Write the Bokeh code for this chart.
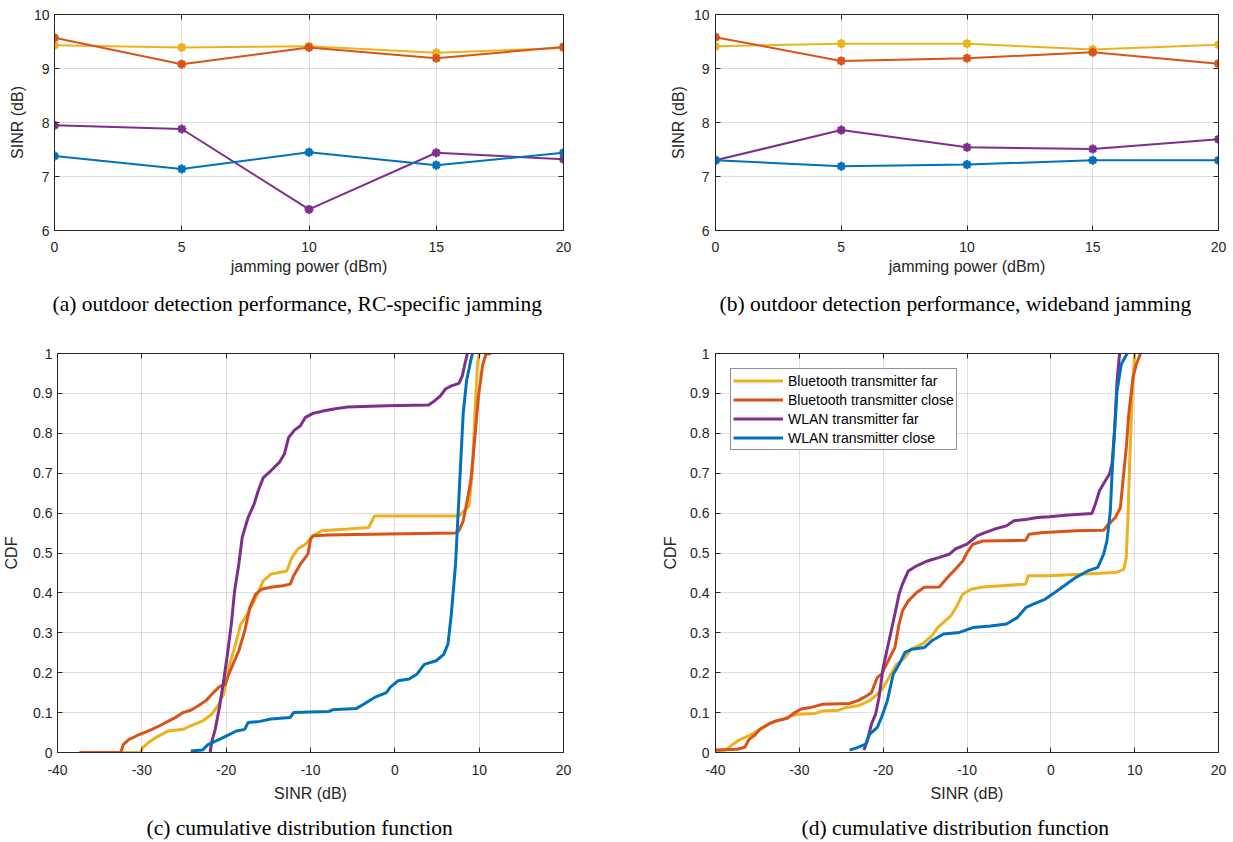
from bokeh.plotting import figure
from bokeh.models import LinearAxis, FixedTicker, Title, Legend, LegendItem, Range1d
from bokeh.layouts import column, row
from bokeh.embed import file_html
from bokeh.resources import INLINE

# ---------------- data ----------------
series_names = ["Bluetooth transmitter far", "Bluetooth transmitter close",
                "WLAN transmitter far", "WLAN transmitter close"]
series_colors = ["#EDB120", "#D95319", "#7E2F8E", "#0072BD"]

jam_power = [0, 5, 10, 15, 20]

# (a) RC-specific jamming
a_bt_far = [9.43, 9.39, 9.41, 9.29, 9.38]
a_bt_close = [9.57, 9.08, 9.39, 9.19, 9.40]
a_wlan_far = [7.95, 7.88, 6.39, 7.44, 7.32]
a_wlan_close = [7.38, 7.14, 7.45, 7.21, 7.44]

# (b) wideband jamming
b_bt_far = [9.41, 9.46, 9.46, 9.35, 9.44]
b_bt_close = [9.58, 9.14, 9.19, 9.30, 9.09]
b_wlan_far = [7.30, 7.86, 7.54, 7.51, 7.69]
b_wlan_close = [7.30, 7.19, 7.22, 7.30, 7.30]

# (c) CDF
c_bt_far_x = [-32.4, -30.1, -29.9, -29.2, -28.3, -26.9, -25.1, -24.2, -22.8, -21.7, -21.0, -20.3,
              -19.7, -19.0, -18.3, -17.4, -16.5, -15.6, -14.7, -12.8, -12.2, -11.5, -10.6, -9.7,
              -8.7, -5.6, -3.1, -2.4, 7.6, 8.8, 9.2, 9.5, 9.8, 10.0]
c_bt_far_y = [0, 0, 0.0125, 0.025, 0.038, 0.054, 0.058, 0.067, 0.079, 0.096, 0.117, 0.146,
              0.213, 0.263, 0.32, 0.35, 0.388, 0.43, 0.447, 0.455, 0.489, 0.51, 0.522, 0.543,
              0.556, 0.56, 0.564, 0.593, 0.593, 0.618, 0.706, 0.848, 0.973, 1.0]
c_bt_close_x = [-37.4, -32.5, -32.2, -31.5, -30.6, -29.7, -28.8, -27.9, -26.9, -26.0, -25.1, -24.2,
                -23.3, -22.4, -21.7, -20.8, -20.1, -19.7, -19.2, -18.5, -17.8, -17.2, -16.5, -15.8,
                -14.7, -13.3, -12.4, -12.0, -11.2, -10.3, -10.0, -9.7, -7.8, -2.8, 7.2, 7.6, 8.1,
                8.5, 9.0, 9.45, 9.9, 10.4, 10.8, 11.4]
c_bt_close_y = [0, 0.0, 0.02, 0.033, 0.042, 0.05, 0.058, 0.067, 0.078, 0.088, 0.10, 0.106,
                0.117, 0.13, 0.146, 0.165, 0.171, 0.196, 0.221, 0.255, 0.305, 0.363, 0.397, 0.409,
                0.414, 0.418, 0.422, 0.443, 0.472, 0.497, 0.535, 0.543, 0.545, 0.547, 0.55, 0.556,
                0.58, 0.622, 0.68, 0.78, 0.89, 0.97, 0.998, 1.0]
c_wlan_far_x = [-21.9, -21.7, -21.3, -20.8, -20.3, -19.9, -19.4, -19.0, -18.5, -18.1, -17.4, -16.7,
                -16.2, -15.6, -14.7, -13.7, -13.1, -12.6, -11.9, -11.2, -10.6, -9.7, -8.5, -6.9,
                -5.6, -1.0, 4.0, 4.7, 5.4, 6.0, 6.7, 7.6, 8.0, 8.3, 8.6]
c_wlan_far_y = [0.0, 0.028, 0.058, 0.113, 0.18, 0.238, 0.32, 0.405, 0.472, 0.539, 0.589, 0.622,
                0.656, 0.689, 0.706, 0.727, 0.748, 0.789, 0.808, 0.819, 0.84, 0.85, 0.856, 0.862,
                0.866, 0.869, 0.871, 0.881, 0.894, 0.911, 0.919, 0.925, 0.944, 0.973, 1.0]
c_wlan_close_x = [-24.2, -22.8, -22.2, -21.0, -19.7, -18.8, -17.8, -17.4, -16.0, -14.7, -12.4, -12.0,
                  -7.8, -7.4, -4.6, -3.7, -2.4, -1.0, -0.55, 0.4, 1.7, 2.6, 3.5, 4.9, 5.8, 6.3,
                  6.7, 7.2, 7.4, 7.6, 7.9, 8.1, 8.5, 9.0, 9.2]
c_wlan_close_y = [0.004, 0.006, 0.019, 0.031, 0.044, 0.054, 0.058, 0.075, 0.078, 0.084, 0.088, 0.10,
                  0.103, 0.107, 0.11, 0.121, 0.138, 0.15, 0.163, 0.18, 0.184, 0.196, 0.221, 0.23,
                  0.246, 0.272, 0.347, 0.472, 0.556, 0.639, 0.764, 0.848, 0.931, 0.982, 1.0]

# (d) CDF
d_bt_far_x = [-40, -38.8, -37.9, -37.0, -36.0, -34.7, -33.3, -31.9, -31.0, -30.0, -28.1, -27.2,
              -25.3, -24.4, -23.0, -21.6, -20.7, -20.0, -19.3, -18.4, -17.4, -16.7, -15.3, -14.2,
              -13.5, -12.8, -11.9, -11.2, -10.5, -9.5, -8.1, -3.0, -2.7, -0.2, 3.5, 7.7, 8.7,
              9.0, 9.2, 9.4, 9.7, 10.0]
d_bt_far_y = [0.003, 0.006, 0.021, 0.033, 0.042, 0.058, 0.075, 0.084, 0.092, 0.096, 0.098, 0.104,
              0.106, 0.113, 0.117, 0.13, 0.146, 0.163, 0.188, 0.221, 0.238, 0.259, 0.272, 0.292,
              0.313, 0.326, 0.343, 0.368, 0.397, 0.409, 0.415, 0.422, 0.443, 0.443, 0.447, 0.451,
              0.459, 0.489, 0.589, 0.723, 0.89, 1.0]
d_bt_close_x = [-40, -37.4, -36.5, -36.0, -35.3, -34.7, -33.7, -32.8, -31.4, -30.7, -29.8, -28.6,
                -27.2, -24.0, -23.0, -22.3, -21.4, -20.7, -20.2, -19.3, -18.6, -18.1, -17.7, -17.0,
                -16.0, -15.1, -13.3, -12.3, -11.4, -10.5, -10.0, -9.3, -8.1, -3.0, -2.6, -1.2,
                3.0, 6.3, 6.7, 7.7, 8.3, 8.6, 9.0, 9.3, 9.8, 10.2, 10.7]
d_bt_close_y = [0.006, 0.008, 0.013, 0.033, 0.044, 0.058, 0.071, 0.079, 0.086, 0.098, 0.109, 0.113,
                0.121, 0.123, 0.13, 0.138, 0.15, 0.188, 0.196, 0.234, 0.263, 0.322, 0.355, 0.38,
                0.401, 0.414, 0.415, 0.439, 0.459, 0.48, 0.501, 0.522, 0.53, 0.532, 0.547, 0.551,
                0.556, 0.557, 0.568, 0.589, 0.614, 0.681, 0.764, 0.848, 0.94, 0.973, 1.0]
d_wlan_far_x = [-22.3, -21.9, -21.4, -20.9, -20.5, -20.0, -19.3, -18.6, -18.1, -17.7, -17.0, -16.0,
                -14.7, -13.3, -12.1, -11.4, -10.0, -8.8, -8.1, -6.7, -5.3, -4.4, -3.0, -1.6,
                -0.2, 2.1, 4.9, 5.3, 5.8, 6.5, 7.0, 7.3, 7.6, 7.9, 8.2]
d_wlan_far_y = [0.006, 0.029, 0.071, 0.096, 0.138, 0.213, 0.28, 0.347, 0.397, 0.422, 0.455, 0.468,
                0.48, 0.489, 0.497, 0.51, 0.522, 0.543, 0.549, 0.56, 0.568, 0.581, 0.584, 0.589,
                0.591, 0.595, 0.599, 0.622, 0.656, 0.681, 0.698, 0.723, 0.806, 0.931, 1.0]
d_wlan_close_x = [-24.0, -23.0, -22.1, -21.6, -20.7, -20.2, -19.5, -18.8, -18.1, -17.4, -16.5, -15.1,
                  -14.2, -12.8, -10.9, -9.3, -7.2, -5.3, -4.0, -3.0, -2.1, -0.7, 0.2, 1.6, 3.0,
                  4.4, 5.6, 6.3, 6.7, 7.1, 7.3, 7.6, 7.9, 8.4, 9.1]
d_wlan_close_y = [0.006, 0.013, 0.021, 0.046, 0.063, 0.088, 0.13, 0.196, 0.221, 0.251, 0.259, 0.263,
                  0.28, 0.297, 0.301, 0.313, 0.317, 0.322, 0.338, 0.363, 0.372, 0.384, 0.397, 0.418,
                  0.439, 0.455, 0.464, 0.497, 0.531, 0.606, 0.698, 0.806, 0.906, 0.973, 1.0]

top_xticks = [0, 5, 10, 15, 20]
top_yticks = [6, 7, 8, 9, 10]
top_ytick_labels = ["6", "7", "8", "9", "10"]
top_xtick_labels = ["0", "5", "10", "15", "20"]
cdf_xticks = [-40, -30, -20, -10, 0, 10, 20]
cdf_xtick_labels = ["-40", "-30", "-20", "-10", "0", "10", "20"]
cdf_yticks = [0, 0.1, 0.2, 0.3, 0.4, 0.5, 0.6, 0.7, 0.8, 0.9, 1]
cdf_ytick_labels = ["0", "0.1", "0.2", "0.3", "0.4", "0.5", "0.6", "0.7", "0.8", "0.9", "1"]

captions = ["(a) outdoor detection performance, RC-specific jamming",
            "(b) outdoor detection performance, wideband jamming",
            "(c) cumulative distribution function",
            "(d) cumulative distribution function"]

AX = "#262626"
SANS = "Liberation Sans"
SERIF = "Liberation Serif"


def make_fig(width, height, borders, xr, yr, xticks, xlabels, yticks, ylabels,
             xlabel, ylabel, caption, tick_standoff_x, label_standoff_x,
             tick_standoff_y, label_standoff_y, cap_gap, cap_shift):
    left, right, top, bottom = borders
    p = figure(width=width, height=height, output_backend="svg", toolbar_location=None,
               x_range=Range1d(*xr), y_range=Range1d(*yr),
               min_border_left=left, min_border_right=right,
               min_border_top=top, min_border_bottom=bottom)
    p.background_fill_color = "white"
    p.border_fill_color = "white"
    p.outline_line_color = AX
    p.outline_line_width = 1
    xa = p.below[0]
    ya = p.left[0]
    for ax, ticks, labels, ts, ls, lab in ((xa, xticks, xlabels, tick_standoff_x, label_standoff_x, xlabel),
                                           (ya, yticks, ylabels, tick_standoff_y, label_standoff_y, ylabel)):
        ax.ticker = FixedTicker(ticks=ticks)
        ax.major_label_overrides = {t: l for t, l in zip(ticks, labels)}
        ax.major_tick_in = 5
        ax.major_tick_out = 0
        ax.minor_tick_line_color = None
        ax.axis_line_color = AX
        ax.major_tick_line_color = AX
        ax.major_label_text_font = SANS
        ax.major_label_text_font_size = "14px"
        ax.major_label_text_color = AX
        ax.major_label_standoff = ts
        ax.axis_label = lab
        ax.axis_label_text_font = SANS
        ax.axis_label_text_font_size = "16px"
        ax.axis_label_text_font_style = "normal"
        ax.axis_label_text_color = AX
        ax.axis_label_standoff = ls
    p.grid.grid_line_color = AX
    p.grid.grid_line_alpha = 0.15
    p.xgrid.ticker = FixedTicker(ticks=xticks)
    p.ygrid.ticker = FixedTicker(ticks=yticks)
    # box ticks on top and right
    for loc, ticks in (("above", xticks), ("right", yticks)):
        ax = LinearAxis(ticker=FixedTicker(ticks=ticks), major_label_text_font_size="0px",
                        major_label_text_color=None,
                        major_tick_in=5, major_tick_out=0, major_label_standoff=0,
                        minor_tick_line_color=None, axis_line_color=AX,
                        major_tick_line_color=AX)
        p.add_layout(ax, loc)
    # invisible spacer between the x axis and the caption
    spacer = LinearAxis(ticker=FixedTicker(ticks=xticks), major_label_text_font_size="0px",
                        major_label_text_color=None, major_tick_in=0, major_tick_out=cap_gap,
                        major_label_standoff=0, minor_tick_line_color=None,
                        axis_line_color=None, major_tick_line_color=None)
    p.add_layout(spacer, "below")
    p.add_layout(Title(text=caption, align="left", offset=cap_shift, vertical_align="top",
                       standoff=0, text_font=SERIF, text_font_size="21.5px",
                       text_font_style="normal", text_color="black"), "below")
    return p


top_series_a = [a_bt_far, a_bt_close, a_wlan_far, a_wlan_close]
top_series_b = [b_bt_far, b_bt_close, b_wlan_far, b_wlan_close]

pa = make_fig(603, 319, (54, 40, 14, 89), (0, 20), (6, 10), top_xticks, top_xtick_labels,
              top_yticks, top_ytick_labels, "jamming power (dBm)", "SINR (dB)", captions[0],
              11, 3, 5, 5, 14, -2)
pb = make_fig(630, 319, (112, 15, 14, 89), (0, 20), (6, 10), top_xticks, top_xtick_labels,
              top_yticks, top_ytick_labels, "jamming power (dBm)", "SINR (dB)", captions[1],
              11, 3, 6, 4, 14, 4)
for p, series in ((pa, top_series_a), (pb, top_series_b)):
    for vals, col in zip(series, series_colors):
        p.line(jam_power, vals, line_color=col, line_width=2)
        p.scatter(jam_power, vals, marker="asterisk", size=9, line_color=col, line_width=2.5)

pc = make_fig(603, 523, (54, 40, 34, 90), (-40, 20), (0, 1), cdf_xticks, cdf_xtick_labels,
              cdf_yticks, cdf_ytick_labels, "SINR (dB)", "CDF", captions[2],
              12, 7, 5, 10, 11, 89)
pd_ = make_fig(630, 523, (112, 15, 34, 90), (-40, 20), (0, 1), cdf_xticks, cdf_xtick_labels,
               cdf_yticks, cdf_ytick_labels, "SINR (dB)", "CDF", captions[3],
               12, 7, 6, 8, 11, 86)

c_series = [(c_bt_far_x, c_bt_far_y), (c_bt_close_x, c_bt_close_y),
            (c_wlan_far_x, c_wlan_far_y), (c_wlan_close_x, c_wlan_close_y)]
d_series = [(d_bt_far_x, d_bt_far_y), (d_bt_close_x, d_bt_close_y),
            (d_wlan_far_x, d_wlan_far_y), (d_wlan_close_x, d_wlan_close_y)]

for (xs, ys), col in zip(c_series, series_colors):
    pc.line(xs, ys, line_color=col, line_width=3)

items = []
for (xs, ys), col, name in zip(d_series, series_colors, series_names):
    r = pd_.line(xs, ys, line_color=col, line_width=3)
    items.append(LegendItem(label=name, renderers=[r]))

legend = Legend(items=items, location="top_left", margin=15, padding=2, spacing=0,
                label_height=19, glyph_height=19, glyph_width=50, label_standoff=5,
                label_text_font=SANS, label_text_font_size="14px", label_text_color="black",
                border_line_color=AX, border_line_width=1, background_fill_color="white",
                background_fill_alpha=1.0)
pd_.add_layout(legend)

layout = column(row(pa, pb), row(pc, pd_))
open("out.html", "w").write(file_html(layout, INLINE))
